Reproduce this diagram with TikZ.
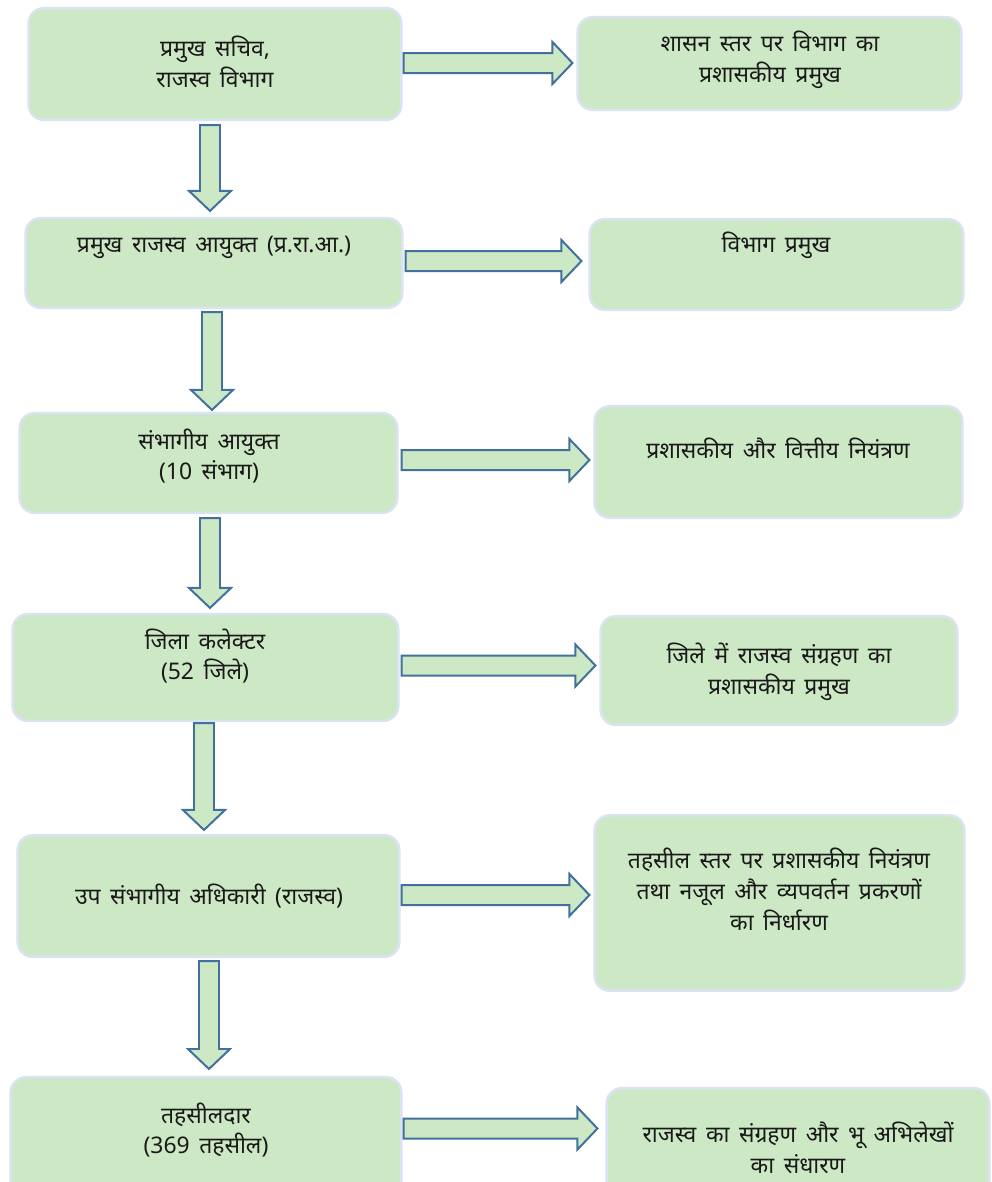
\documentclass[tikz,border=0pt]{standalone}
\usepackage{fontspec}
\setmainfont[Script=Devanagari, WordSpace=1.6]{Noto Sans}
\usetikzlibrary{calc}

\definecolor{boxgreen}{RGB}{205,232,196}
\definecolor{boxedge}{RGB}{218,227,243}
\definecolor{arrowblue}{RGB}{65,113,156}

\tikzset{
  box/.style={draw=boxedge, line width=2.5, fill=boxgreen, rounded corners=15, inner sep=0pt},
  txt/.style={align=center, font=\fontsize{23}{31}\selectfont, text=black!90, inner sep=0pt},
  blockarrow/.style={draw=arrowblue, fill=boxgreen, line width=2, line join=miter}
}

% block arrow from #1 to its tip #2
\newcommand{\blkarrow}[2]{%
  \coordinate (s) at (#1);
  \coordinate (t) at (#2);
  \coordinate (h) at ($(t)!20bp!(s)$);
  \draw[blockarrow] ($(s)!10bp!90:(t)$) -- ($(h)!10bp!-90:(s)$) -- ($(h)!21bp!-90:(s)$)
    -- (t) -- ($(h)!21bp!90:(s)$) -- ($(h)!10bp!90:(s)$) -- ($(s)!10bp!-90:(t)$) -- cycle;
}

\begin{document}
\begin{tikzpicture}[x=1bp, y=-1bp, line width=1bp]
\useasboundingbox (0,0) rectangle (992,1182);

% left column
\node[box, minimum width=374, minimum height=112] (b1) at (215,64) {};
\node[box, minimum width=378, minimum height=90]  (b2) at (214,263) {};
\node[box, minimum width=379, minimum height=100] (b3) at (208.5,463) {};
\node[box, minimum width=387, minimum height=107] (b4) at (205.5,667.5) {};
\node[box, minimum width=383, minimum height=122] (b5) at (208.5,896) {};
\node[box, minimum width=392, minimum height=123] (b6) at (206,1138.5) {};

% right column
\node[box, minimum width=385, minimum height=93]  (r1) at (769.5,63.5) {};
\node[box, minimum width=375, minimum height=91]  (r2) at (776.5,264.5) {};
\node[box, minimum width=369, minimum height=112] (r3) at (778.5,462) {};
\node[box, minimum width=358, minimum height=109] (r4) at (779,670.5) {};
\node[box, minimum width=371, minimum height=176] (r5) at (779.5,903) {};
\node[box, minimum width=384, minimum height=112] (r6) at (798,1144) {};

% texts
\node[txt] (b1t) at (215,62)  {प्रमुख सचिव,\\राजस्व विभाग};
\node[txt] (b2t) at (214,247) {प्रमुख राजस्व आयुक्त (प्र.रा.आ.)};
\node[txt] (b3t) at (209,456) {संभागीय आयुक्त\\(10 संभाग)};
\node[txt] (b4t) at (205,656) {जिला कलेक्टर\\(52 जिले)};
\node[txt] (b5t) at (209,896) {उप संभागीय अधिकारी (राजस्व)};
\node[txt] (b6t) at (206,1130) {तहसीलदार\\(369 तहसील)};

\node[txt] (r1t) at (770,60)  {शासन स्तर पर विभाग का\\प्रशासकीय प्रमुख};
\node[txt] (r2t) at (776,245) {विभाग प्रमुख};
\node[txt] (r3t) at (778,448) {प्रशासकीय और वित्तीय नियंत्रण};
\node[txt] (r4t) at (779,672) {जिले में राजस्व संग्रहण का\\प्रशासकीय प्रमुख};
\node[txt] (r5t) at (779,889) {तहसील स्तर पर प्रशासकीय नियंत्रण\\तथा नजूल और व्यपवर्तन प्रकरणों\\का निर्धारण};
\node[txt] (r6t) at (798,1148) {राजस्व का संग्रहण और भू अभिलेखों\\का संधारण};

% arrows to the right
\blkarrow{$(b1.east)+(1,-1)$}{$(b1.east -| r1.west)+(-4,-1)$}
\blkarrow{$(b2.east)+(2,-2)$}{$(b2.east -| r2.west)+(-7,-2)$}
\blkarrow{$(b3.east)+(3,-3)$}{$(b3.east -| r3.west)+(-4,-3)$}
\blkarrow{$(b4.east)+(2,-2)$}{$(b4.east -| r4.west)+(-4,-2)$}
\blkarrow{$(b5.east)+(1,-1)$}{$(b5.east -| r5.west)+(-4,-1)$}
\blkarrow{$(b6.east)+(1,-10)$}{$(b6.east -| r6.west)+(-8,-10)$}

% arrows downwards
\blkarrow{$(b1.south)+(-5,4)$}{$(b1.south |- b2.north)+(-5,-6)$}
\blkarrow{$(b2.south)+(-2,3)$}{$(b2.south |- b3.north)+(-2,-2)$}
\blkarrow{$(b3.south)+(1.5,4)$}{$(b3.south |- b4.north)+(1.5,-5)$}
\blkarrow{$(b4.south)+(-1.5,1)$}{$(b4.south |- b5.north)+(-1.5,-4)$}
\blkarrow{$(b5.south)+(0.5,3)$}{$(b5.south |- b6.north)+(0.5,-7)$}
\end{tikzpicture}
\end{document}
